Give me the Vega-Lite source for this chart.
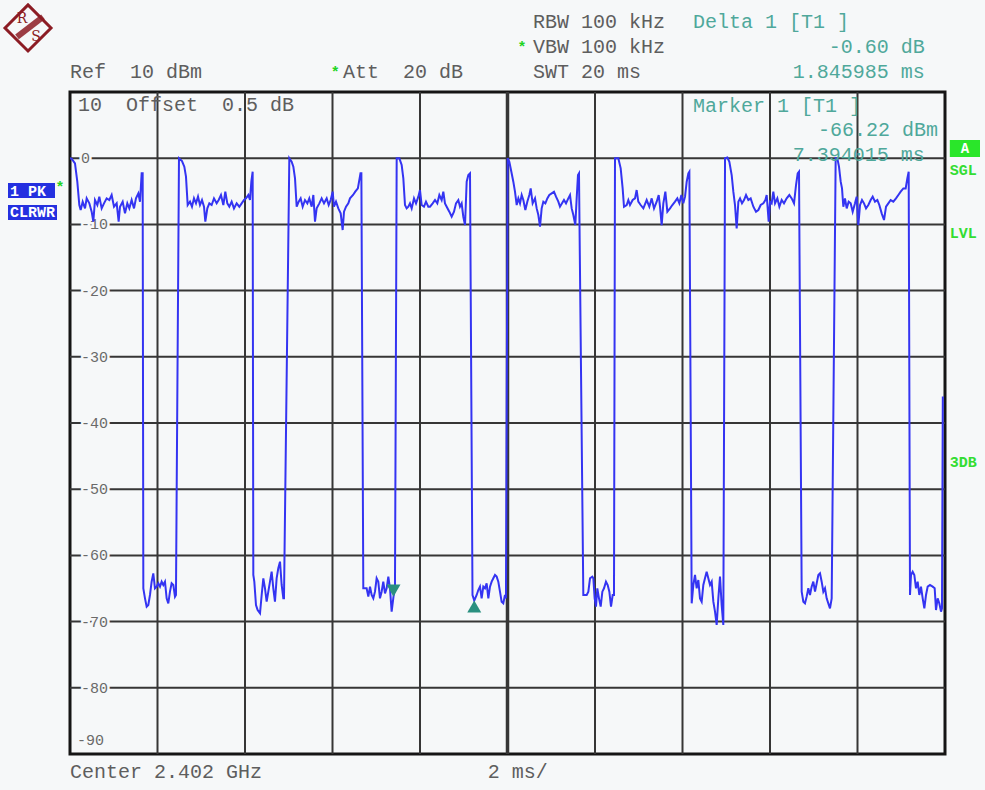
{
"$schema":"https://vega.github.io/schema/vega-lite/v6.json",
"width":875,"height":662,
"autosize":{"type":"none"},
"padding":{"left":70,"top":92,"right":40,"bottom":36},
"background":"#f6f8f9",
"config":{"view":{"stroke":"#151515","strokeWidth":3,"fill":"#f6f8f9"},"font":"Liberation Mono"},
"datasets":{
"trace":[
{"ms":0,"dBm":0.0},{"ms":0.04,"dBm":-0.1},{"ms":0.114,"dBm":-0.78},{"ms":0.167,"dBm":-3.55},{"ms":0.213,"dBm":-7.07},{"ms":0.244,"dBm":-7.83},{"ms":0.29,"dBm":-6.57},{"ms":0.343,"dBm":-7.58},{"ms":0.381,"dBm":-6.07},{"ms":0.442,"dBm":-6.82},{"ms":0.495,"dBm":-8.08},{"ms":0.533,"dBm":-9.59},{"ms":0.571,"dBm":-6.32},{"ms":0.625,"dBm":-7.07},{"ms":0.67,"dBm":-5.81},{"ms":0.724,"dBm":-7.58},{"ms":0.777,"dBm":-6.82},{"ms":0.838,"dBm":-6.07},{"ms":0.899,"dBm":-6.32},{"ms":0.952,"dBm":-5.56},{"ms":1.006,"dBm":-7.33},{"ms":1.067,"dBm":-6.82},{"ms":1.112,"dBm":-9.59},{"ms":1.143,"dBm":-7.33},{"ms":1.204,"dBm":-6.57},{"ms":1.257,"dBm":-8.33},{"ms":1.31,"dBm":-6.82},{"ms":1.356,"dBm":-7.58},{"ms":1.409,"dBm":-6.32},{"ms":1.463,"dBm":-7.58},{"ms":1.508,"dBm":-6.07},{"ms":1.562,"dBm":-5.31},{"ms":1.6,"dBm":-6.57},{"ms":1.638,"dBm":-2.29},{"ms":1.661,"dBm":-2.29},
{"ms":1.676,"dBm":-64.97},{"ms":1.714,"dBm":-66.49},{"ms":1.752,"dBm":-67.74},{"ms":1.79,"dBm":-67.49},{"ms":1.828,"dBm":-65.98},{"ms":1.866,"dBm":-63.97},{"ms":1.904,"dBm":-62.71},{"ms":1.942,"dBm":-64.97},{"ms":1.981,"dBm":-64.72},{"ms":2.019,"dBm":-64.22},{"ms":2.057,"dBm":-64.72},{"ms":2.095,"dBm":-63.97},{"ms":2.133,"dBm":-64.47},{"ms":2.171,"dBm":-63.97},{"ms":2.209,"dBm":-66.49},{"ms":2.247,"dBm":-67.24},{"ms":2.285,"dBm":-65.48},{"ms":2.323,"dBm":-64.22},{"ms":2.362,"dBm":-64.47},{"ms":2.4,"dBm":-66.23},{"ms":2.422,"dBm":-65.98},
{"ms":2.491,"dBm":0.0},{"ms":2.56,"dBm":-0.43},{"ms":2.613,"dBm":-1.28},{"ms":2.651,"dBm":-2.79},{"ms":2.69,"dBm":-7.07},{"ms":2.743,"dBm":-6.57},{"ms":2.788,"dBm":-7.33},{"ms":2.834,"dBm":-6.07},{"ms":2.88,"dBm":-6.82},{"ms":2.926,"dBm":-5.81},{"ms":2.971,"dBm":-7.07},{"ms":3.017,"dBm":-6.32},{"ms":3.063,"dBm":-7.33},{"ms":3.093,"dBm":-9.59},{"ms":3.139,"dBm":-7.58},{"ms":3.185,"dBm":-6.82},{"ms":3.238,"dBm":-7.07},{"ms":3.291,"dBm":-6.07},{"ms":3.352,"dBm":-6.82},{"ms":3.398,"dBm":-6.32},{"ms":3.451,"dBm":-5.56},{"ms":3.505,"dBm":-7.07},{"ms":3.55,"dBm":-5.06},{"ms":3.596,"dBm":-6.82},{"ms":3.642,"dBm":-7.33},{"ms":3.695,"dBm":-6.57},{"ms":3.748,"dBm":-7.58},{"ms":3.809,"dBm":-6.82},{"ms":3.87,"dBm":-7.33},{"ms":3.924,"dBm":-6.82},{"ms":3.977,"dBm":-6.32},{"ms":4.023,"dBm":-6.07},{"ms":4.076,"dBm":-5.56},{"ms":4.114,"dBm":-6.32},{"ms":4.145,"dBm":-3.55},{"ms":4.175,"dBm":-2.04},
{"ms":4.19,"dBm":-62.96},{"ms":4.213,"dBm":-63.97},{"ms":4.251,"dBm":-67.49},{"ms":4.289,"dBm":-68.25},{"ms":4.343,"dBm":-68.75},{"ms":4.381,"dBm":-65.98},{"ms":4.419,"dBm":-63.46},{"ms":4.457,"dBm":-64.97},{"ms":4.495,"dBm":-66.99},{"ms":4.533,"dBm":-65.48},{"ms":4.571,"dBm":-63.97},{"ms":4.609,"dBm":-62.46},{"ms":4.647,"dBm":-64.97},{"ms":4.685,"dBm":-66.99},{"ms":4.723,"dBm":-63.46},{"ms":4.761,"dBm":-61.95},{"ms":4.8,"dBm":-60.95},{"ms":4.838,"dBm":-64.47},{"ms":4.876,"dBm":-66.49},{"ms":4.891,"dBm":-66.49},
{"ms":5.013,"dBm":0.0},{"ms":5.066,"dBm":-0.53},{"ms":5.105,"dBm":-1.28},{"ms":5.143,"dBm":-3.05},{"ms":5.181,"dBm":-7.33},{"ms":5.227,"dBm":-6.57},{"ms":5.272,"dBm":-6.07},{"ms":5.318,"dBm":-7.33},{"ms":5.371,"dBm":-6.32},{"ms":5.425,"dBm":-6.82},{"ms":5.47,"dBm":-6.07},{"ms":5.524,"dBm":-7.33},{"ms":5.562,"dBm":-5.56},{"ms":5.6,"dBm":-9.59},{"ms":5.638,"dBm":-7.58},{"ms":5.699,"dBm":-6.82},{"ms":5.752,"dBm":-6.07},{"ms":5.806,"dBm":-6.82},{"ms":5.867,"dBm":-6.07},{"ms":5.913,"dBm":-7.07},{"ms":5.958,"dBm":-6.32},{"ms":6.004,"dBm":-5.06},{"ms":6.034,"dBm":-7.33},{"ms":6.08,"dBm":-6.57},{"ms":6.133,"dBm":-7.58},{"ms":6.187,"dBm":-8.33},{"ms":6.232,"dBm":-10.85},{"ms":6.263,"dBm":-8.08},{"ms":6.309,"dBm":-7.33},{"ms":6.362,"dBm":-6.82},{"ms":6.4,"dBm":-6.07},{"ms":6.47,"dBm":-5.56},{"ms":6.52,"dBm":-5.06},{"ms":6.58,"dBm":-4.55},{"ms":6.64,"dBm":-2.29},{"ms":6.66,"dBm":-2.29},
{"ms":6.704,"dBm":-64.97},{"ms":6.78,"dBm":-64.97},{"ms":6.819,"dBm":-66.23},{"ms":6.857,"dBm":-64.72},{"ms":6.895,"dBm":-65.98},{"ms":6.933,"dBm":-66.49},{"ms":6.971,"dBm":-65.48},{"ms":7.009,"dBm":-63.46},{"ms":7.047,"dBm":-63.97},{"ms":7.085,"dBm":-66.49},{"ms":7.123,"dBm":-65.48},{"ms":7.161,"dBm":-63.97},{"ms":7.2,"dBm":-65.73},{"ms":7.238,"dBm":-64.97},{"ms":7.276,"dBm":-63.21},{"ms":7.314,"dBm":-64.97},{"ms":7.352,"dBm":-68.5},{"ms":7.394,"dBm":-66.22},{"ms":7.428,"dBm":-64.97},
{"ms":7.467,"dBm":0.0},{"ms":7.528,"dBm":-0.02},{"ms":7.581,"dBm":-1.03},{"ms":7.619,"dBm":-3.05},{"ms":7.657,"dBm":-7.07},{"ms":7.695,"dBm":-7.58},{"ms":7.733,"dBm":-7.33},{"ms":7.771,"dBm":-6.82},{"ms":7.81,"dBm":-7.58},{"ms":7.863,"dBm":-6.07},{"ms":7.909,"dBm":-6.82},{"ms":7.962,"dBm":-5.81},{"ms":8.0,"dBm":-4.81},{"ms":8.038,"dBm":-7.07},{"ms":8.091,"dBm":-7.33},{"ms":8.137,"dBm":-6.57},{"ms":8.19,"dBm":-7.33},{"ms":8.229,"dBm":-7.33},{"ms":8.29,"dBm":-6.82},{"ms":8.343,"dBm":-6.32},{"ms":8.396,"dBm":-6.82},{"ms":8.442,"dBm":-5.56},{"ms":8.495,"dBm":-6.32},{"ms":8.533,"dBm":-5.06},{"ms":8.571,"dBm":-6.82},{"ms":8.61,"dBm":-7.33},{"ms":8.67,"dBm":-8.08},{"ms":8.724,"dBm":-8.84},{"ms":8.777,"dBm":-8.08},{"ms":8.823,"dBm":-6.82},{"ms":8.876,"dBm":-6.32},{"ms":8.914,"dBm":-7.33},{"ms":8.952,"dBm":-6.82},{"ms":8.99,"dBm":-8.84},{"ms":9.029,"dBm":-10.1},{"ms":9.067,"dBm":-3.55},{"ms":9.105,"dBm":-2.54},{"ms":9.143,"dBm":-2.29},
{"ms":9.2,"dBm":-66.0},{"ms":9.24,"dBm":-66.82},{"ms":9.295,"dBm":-65.98},{"ms":9.333,"dBm":-65.23},{"ms":9.371,"dBm":-64.72},{"ms":9.409,"dBm":-66.49},{"ms":9.447,"dBm":-64.72},{"ms":9.485,"dBm":-64.97},{"ms":9.523,"dBm":-64.22},{"ms":9.562,"dBm":-66.49},{"ms":9.6,"dBm":-64.72},{"ms":9.638,"dBm":-63.97},{"ms":9.676,"dBm":-63.46},{"ms":9.714,"dBm":-62.96},{"ms":9.752,"dBm":-63.21},{"ms":9.79,"dBm":-63.97},{"ms":9.828,"dBm":-65.48},{"ms":9.866,"dBm":-66.99},{"ms":9.904,"dBm":-67.24},{"ms":9.942,"dBm":-65.98},{"ms":9.965,"dBm":-66.49},
{"ms":10.004,"dBm":0.0},{"ms":10.042,"dBm":-0.53},{"ms":10.088,"dBm":-2.04},{"ms":10.133,"dBm":-3.55},{"ms":10.171,"dBm":-5.06},{"ms":10.21,"dBm":-7.07},{"ms":10.248,"dBm":-6.07},{"ms":10.286,"dBm":-6.82},{"ms":10.324,"dBm":-5.56},{"ms":10.362,"dBm":-6.32},{"ms":10.408,"dBm":-7.83},{"ms":10.453,"dBm":-6.57},{"ms":10.499,"dBm":-5.56},{"ms":10.53,"dBm":-4.56},{"ms":10.575,"dBm":-6.82},{"ms":10.629,"dBm":-6.07},{"ms":10.667,"dBm":-7.58},{"ms":10.705,"dBm":-8.58},{"ms":10.743,"dBm":-10.35},{"ms":10.781,"dBm":-7.58},{"ms":10.819,"dBm":-6.57},{"ms":10.865,"dBm":-6.82},{"ms":10.91,"dBm":-6.07},{"ms":10.956,"dBm":-5.56},{"ms":11.01,"dBm":-5.31},{"ms":11.063,"dBm":-5.06},{"ms":11.109,"dBm":-5.81},{"ms":11.162,"dBm":-6.57},{"ms":11.2,"dBm":-7.33},{"ms":11.246,"dBm":-6.82},{"ms":11.291,"dBm":-6.32},{"ms":11.337,"dBm":-6.82},{"ms":11.39,"dBm":-6.07},{"ms":11.429,"dBm":-5.56},{"ms":11.467,"dBm":-7.58},{"ms":11.505,"dBm":-8.58},{"ms":11.55,"dBm":-10.1},{"ms":11.581,"dBm":-6.07},{"ms":11.611,"dBm":-2.54},{"ms":11.634,"dBm":-2.29},
{"ms":11.733,"dBm":-65.98},{"ms":11.81,"dBm":-65.98},{"ms":11.848,"dBm":-65.48},{"ms":11.886,"dBm":-63.46},{"ms":11.939,"dBm":-63.21},{"ms":11.962,"dBm":-63.46},{"ms":11.992,"dBm":-66.49},{"ms":12.023,"dBm":-67.74},{"ms":12.053,"dBm":-64.97},{"ms":12.091,"dBm":-66.49},{"ms":12.13,"dBm":-67.74},{"ms":12.168,"dBm":-65.48},{"ms":12.206,"dBm":-64.97},{"ms":12.251,"dBm":-63.97},{"ms":12.29,"dBm":-64.47},{"ms":12.328,"dBm":-65.48},{"ms":12.366,"dBm":-67.74},{"ms":12.404,"dBm":-65.98},{"ms":12.434,"dBm":-65.98},
{"ms":12.457,"dBm":0.0},{"ms":12.533,"dBm":-0.02},{"ms":12.587,"dBm":-1.53},{"ms":12.632,"dBm":-4.56},{"ms":12.663,"dBm":-7.33},{"ms":12.724,"dBm":-7.07},{"ms":12.762,"dBm":-6.32},{"ms":12.8,"dBm":-7.07},{"ms":12.861,"dBm":-6.32},{"ms":12.914,"dBm":-6.07},{"ms":12.952,"dBm":-4.81},{"ms":12.99,"dBm":-6.57},{"ms":13.044,"dBm":-7.07},{"ms":13.105,"dBm":-7.58},{"ms":13.181,"dBm":-6.32},{"ms":13.242,"dBm":-7.33},{"ms":13.296,"dBm":-6.07},{"ms":13.349,"dBm":-7.58},{"ms":13.41,"dBm":-6.57},{"ms":13.456,"dBm":-5.56},{"ms":13.486,"dBm":-7.33},{"ms":13.524,"dBm":-10.1},{"ms":13.562,"dBm":-6.82},{"ms":13.608,"dBm":-5.06},{"ms":13.654,"dBm":-8.08},{"ms":13.715,"dBm":-7.58},{"ms":13.768,"dBm":-7.07},{"ms":13.829,"dBm":-6.57},{"ms":13.882,"dBm":-6.07},{"ms":13.928,"dBm":-6.82},{"ms":13.974,"dBm":-5.56},{"ms":14.019,"dBm":-6.82},{"ms":14.058,"dBm":-5.81},{"ms":14.096,"dBm":-3.55},{"ms":14.134,"dBm":-2.29},{"ms":14.157,"dBm":-2.04},
{"ms":14.21,"dBm":-67.24},{"ms":14.248,"dBm":-64.47},{"ms":14.286,"dBm":-62.96},{"ms":14.324,"dBm":-64.97},{"ms":14.362,"dBm":-63.72},{"ms":14.4,"dBm":-66.49},{"ms":14.438,"dBm":-66.99},{"ms":14.476,"dBm":-64.47},{"ms":14.514,"dBm":-63.46},{"ms":14.552,"dBm":-62.46},{"ms":14.59,"dBm":-63.46},{"ms":14.629,"dBm":-64.47},{"ms":14.667,"dBm":-63.97},{"ms":14.705,"dBm":-66.99},{"ms":14.743,"dBm":-68.5},{"ms":14.781,"dBm":-70.51},{"ms":14.819,"dBm":-66.49},{"ms":14.857,"dBm":-63.21},{"ms":14.895,"dBm":-67.49},{"ms":14.933,"dBm":-70.51},
{"ms":14.972,"dBm":0.0},{"ms":15.025,"dBm":0.1},{"ms":15.071,"dBm":-0.53},{"ms":15.124,"dBm":-2.54},{"ms":15.162,"dBm":-5.06},{"ms":15.2,"dBm":-7.07},{"ms":15.238,"dBm":-10.6},{"ms":15.277,"dBm":-6.57},{"ms":15.315,"dBm":-6.07},{"ms":15.36,"dBm":-6.82},{"ms":15.406,"dBm":-6.32},{"ms":15.452,"dBm":-5.56},{"ms":15.505,"dBm":-6.32},{"ms":15.558,"dBm":-6.07},{"ms":15.62,"dBm":-7.33},{"ms":15.68,"dBm":-8.08},{"ms":15.734,"dBm":-7.83},{"ms":15.787,"dBm":-7.07},{"ms":15.848,"dBm":-6.82},{"ms":15.894,"dBm":-6.32},{"ms":15.924,"dBm":-5.56},{"ms":15.97,"dBm":-9.59},{"ms":16.0,"dBm":-6.57},{"ms":16.038,"dBm":-6.82},{"ms":16.076,"dBm":-5.06},{"ms":16.115,"dBm":-6.82},{"ms":16.168,"dBm":-6.07},{"ms":16.214,"dBm":-7.33},{"ms":16.267,"dBm":-6.32},{"ms":16.32,"dBm":-6.82},{"ms":16.381,"dBm":-6.07},{"ms":16.442,"dBm":-5.56},{"ms":16.496,"dBm":-6.07},{"ms":16.549,"dBm":-6.82},{"ms":16.595,"dBm":-4.05},{"ms":16.633,"dBm":-2.29},{"ms":16.663,"dBm":-2.04},
{"ms":16.724,"dBm":-65.48},{"ms":16.762,"dBm":-66.99},{"ms":16.8,"dBm":-67.24},{"ms":16.838,"dBm":-66.23},{"ms":16.876,"dBm":-64.97},{"ms":16.914,"dBm":-65.98},{"ms":16.952,"dBm":-64.72},{"ms":16.99,"dBm":-63.97},{"ms":17.029,"dBm":-65.48},{"ms":17.067,"dBm":-64.22},{"ms":17.105,"dBm":-62.96},{"ms":17.143,"dBm":-62.71},{"ms":17.181,"dBm":-63.97},{"ms":17.219,"dBm":-65.48},{"ms":17.257,"dBm":-64.97},{"ms":17.295,"dBm":-66.49},{"ms":17.333,"dBm":-67.24},{"ms":17.371,"dBm":-68.0},{"ms":17.41,"dBm":-66.49},
{"ms":17.501,"dBm":0.0},{"ms":17.539,"dBm":-0.02},{"ms":17.577,"dBm":-1.28},{"ms":17.616,"dBm":-3.55},{"ms":17.646,"dBm":-4.56},{"ms":17.676,"dBm":-7.33},{"ms":17.714,"dBm":-6.07},{"ms":17.753,"dBm":-7.58},{"ms":17.798,"dBm":-6.57},{"ms":17.844,"dBm":-6.82},{"ms":17.89,"dBm":-8.08},{"ms":17.943,"dBm":-6.82},{"ms":17.981,"dBm":-5.81},{"ms":18.019,"dBm":-10.1},{"ms":18.058,"dBm":-7.07},{"ms":18.103,"dBm":-6.32},{"ms":18.149,"dBm":-6.82},{"ms":18.195,"dBm":-7.58},{"ms":18.248,"dBm":-7.07},{"ms":18.301,"dBm":-6.32},{"ms":18.347,"dBm":-5.81},{"ms":18.4,"dBm":-6.57},{"ms":18.454,"dBm":-6.32},{"ms":18.499,"dBm":-7.07},{"ms":18.553,"dBm":-8.33},{"ms":18.606,"dBm":-9.34},{"ms":18.652,"dBm":-7.33},{"ms":18.705,"dBm":-6.82},{"ms":18.758,"dBm":-6.32},{"ms":18.819,"dBm":-6.57},{"ms":18.88,"dBm":-6.07},{"ms":18.934,"dBm":-5.56},{"ms":18.987,"dBm":-5.06},{"ms":19.048,"dBm":-4.56},{"ms":19.101,"dBm":-4.56},{"ms":19.139,"dBm":-3.05},{"ms":19.17,"dBm":-2.04},
{"ms":19.2,"dBm":-65.98},{"ms":19.223,"dBm":-62.96},{"ms":19.261,"dBm":-62.46},{"ms":19.299,"dBm":-62.96},{"ms":19.337,"dBm":-64.97},{"ms":19.375,"dBm":-63.97},{"ms":19.413,"dBm":-65.98},{"ms":19.451,"dBm":-64.72},{"ms":19.49,"dBm":-66.49},{"ms":19.528,"dBm":-68.0},{"ms":19.566,"dBm":-65.98},{"ms":19.604,"dBm":-64.72},{"ms":19.657,"dBm":-64.47},{"ms":19.718,"dBm":-64.72},{"ms":19.764,"dBm":-64.97},{"ms":19.794,"dBm":-68.25},{"ms":19.832,"dBm":-66.49},{"ms":19.87,"dBm":-67.24},{"ms":19.909,"dBm":-68.5},{"ms":19.931,"dBm":-68.0},{"ms":19.95,"dBm":-36.0}
],
"vgrid":[{"ms":2},{"ms":4},{"ms":6},{"ms":8},{"ms":10},{"ms":12},{"ms":14},{"ms":16},{"ms":18}],
"hgrid":[{"dBm":0},{"dBm":-10},{"dBm":-20},{"dBm":-30},{"dBm":-40},{"dBm":-50},{"dBm":-60},{"dBm":-70},{"dBm":-80}],
"ylab":[{"lev":0,"lab":"0"},{"lev":-10,"lab":"-10"},{"lev":-20,"lab":"-20"},{"lev":-30,"lab":"-30"},{"lev":-40,"lab":"-40"},{"lev":-50,"lab":"-50"},{"lev":-60,"lab":"-60"},{"lev":-70,"lab":"-70"},{"lev":-80,"lab":"-80"}],
"ylab90":[{"lev":-90,"lab":"-90"}],
"info":[
{"txt":"Ref \u00a010 dBm","ms":0,"dBm":13.0},
{"txt":"Att \u00a020 dB","ms":6.24,"dBm":13.0},
{"txt":"RBW 100 kHz","ms":10.58,"dBm":20.57},
{"txt":"VBW 100 kHz","ms":10.58,"dBm":16.8},
{"txt":"SWT 20 ms","ms":10.58,"dBm":13.0},
{"txt":"10 \u00a0Offset \u00a00.5 dB","ms":0.18,"dBm":8.04},
{"txt":"Center 2.402 GHz","ms":0,"dBm":-92.7},
{"txt":"2 ms/","ms":9.55,"dBm":-92.7}
],
"tealL":[
{"txt":"Delta 1 [T1 ]","ms":14.24,"dBm":20.57},
{"txt":"Marker 1 [T1 ]","ms":14.24,"dBm":7.89}
],
"tealR":[
{"txt":"-0.60 dB","ms":19.54,"dBm":16.8},
{"txt":"1.845985 ms","ms":19.54,"dBm":13.0},
{"txt":"-66.22 dBm","ms":19.84,"dBm":4.26},
{"txt":"7.394015 ms","ms":19.54,"dBm":0.48}
],
"stars":[{"ms":10.33,"dBm":16.8},{"ms":6.06,"dBm":13.0},{"ms":-0.23,"dBm":-4.4}],
"boxes":[{"x1":-1.417,"x2":-0.343,"y1":-3.75,"y2":-6.01},{"x1":-1.417,"x2":-0.297,"y1":-7.07,"y2":-9.34}],
"boxtxt":[{"txt":"1 PK","ms":-1.37,"dBm":-4.88},{"txt":"CLRWR","ms":-1.37,"dBm":-8.2}],
"grnbox":[{"x1":20.11,"x2":20.8,"y1":2.75,"y2":0.18}],
"grnboxtxt":[{"txt":"A","ms":20.455,"dBm":1.46}],
"grntxt":[{"txt":"SGL","ms":20.11,"dBm":-1.78},{"txt":"LVL","ms":20.11,"dBm":-11.3},{"txt":"3DB","ms":20.11,"dBm":-45.9}],
"logo":[{"ms":-0.96,"dBm":19.67}],
"logoband":[{"x1":-1.211,"y1":18.31,"x2":-0.617,"y2":21.33}],
"logotxt":[{"txt":"R","ms":-1.097,"dBm":21.03},{"txt":"S","ms":-0.777,"dBm":18.31}],
"m1":[{"ms":7.394,"dBm":-66.22}],
"d1":[{"ms":9.24,"dBm":-66.82}]
},
"layer":[
{"data":{"name":"vgrid"},
 "mark":{"type":"rule","color":"#363636"},
 "encoding":{"x":{"field":"ms","type":"quantitative","scale":{"domain":[0,20],"nice":false,"zero":false},"axis":null},
  "strokeWidth":{"condition":{"test":"datum.ms === 10","value":3.5},"value":2}}},
{"data":{"name":"hgrid"},
 "mark":{"type":"rule","color":"#363636","strokeWidth":2},
 "encoding":{"y":{"field":"dBm","type":"quantitative","scale":{"domain":[-90,10],"nice":false,"zero":false},"axis":null}}},
{"data":{"name":"ylab"},
 "mark":{"type":"text","align":"left","baseline":"middle","fontSize":15,"color":"#f6f8f9","stroke":"#f6f8f9","strokeWidth":5},
 "encoding":{"x":{"datum":0.25,"type":"quantitative","scale":{"domain":[0,20],"nice":false,"zero":false},"axis":null},
  "y":{"field":"lev","type":"quantitative","scale":{"domain":[-90,10],"nice":false,"zero":false},"axis":null},
  "text":{"field":"lab"}}},
{"data":{"name":"ylab"},
 "mark":{"type":"text","align":"left","baseline":"middle","fontSize":15,"color":"#6a6a6a"},
 "encoding":{"x":{"datum":0.25,"type":"quantitative","scale":{"domain":[0,20],"nice":false,"zero":false},"axis":null},
  "y":{"field":"lev","type":"quantitative","scale":{"domain":[-90,10],"nice":false,"zero":false},"axis":null},
  "text":{"field":"lab"}}},
{"data":{"name":"ylab90"},
 "mark":{"type":"text","align":"left","baseline":"middle","fontSize":15,"color":"#6a6a6a","dy":-14},
 "encoding":{"x":{"datum":0.16,"type":"quantitative","scale":{"domain":[0,20],"nice":false,"zero":false},"axis":null},
  "y":{"field":"lev","type":"quantitative","scale":{"domain":[-90,10],"nice":false,"zero":false},"axis":null},
  "text":{"field":"lab"}}},
{"data":{"name":"trace"},
 "mark":{"type":"line","color":"#3434f2","strokeWidth":2,"clip":true},
 "encoding":{
  "x":{"field":"ms","type":"quantitative","scale":{"domain":[0,20],"nice":false,"zero":false},"axis":null},
  "y":{"field":"dBm","type":"quantitative","scale":{"domain":[-90,10],"nice":false,"zero":false},"axis":null}}},
{"data":{"name":"m1"},
 "mark":{"type":"point","shape":"triangle-down","filled":true,"size":196,"color":"#2a9080","opacity":1,"yOffset":-6},
 "encoding":{"x":{"field":"ms","type":"quantitative","scale":{"domain":[0,20],"nice":false,"zero":false},"axis":null},
  "y":{"field":"dBm","type":"quantitative","scale":{"domain":[-90,10],"nice":false,"zero":false},"axis":null}}},
{"data":{"name":"d1"},
 "mark":{"type":"point","shape":"triangle-up","filled":true,"size":196,"color":"#2a9080","opacity":1,"yOffset":6},
 "encoding":{"x":{"field":"ms","type":"quantitative","scale":{"domain":[0,20],"nice":false,"zero":false},"axis":null},
  "y":{"field":"dBm","type":"quantitative","scale":{"domain":[-90,10],"nice":false,"zero":false},"axis":null}}},
{"data":{"name":"info"},
 "mark":{"type":"text","align":"left","baseline":"middle","fontSize":20,"color":"#5e5e5e"},
 "encoding":{"x":{"field":"ms","type":"quantitative","scale":{"domain":[0,20],"nice":false,"zero":false},"axis":null},
  "y":{"field":"dBm","type":"quantitative","scale":{"domain":[-90,10],"nice":false,"zero":false},"axis":null},
  "text":{"field":"txt"}}},
{"data":{"name":"tealL"},
 "mark":{"type":"text","align":"left","baseline":"middle","fontSize":20,"color":"#4fa89b"},
 "encoding":{"x":{"field":"ms","type":"quantitative","scale":{"domain":[0,20],"nice":false,"zero":false},"axis":null},
  "y":{"field":"dBm","type":"quantitative","scale":{"domain":[-90,10],"nice":false,"zero":false},"axis":null},
  "text":{"field":"txt"}}},
{"data":{"name":"tealR"},
 "mark":{"type":"text","align":"right","baseline":"middle","fontSize":20,"color":"#4fa89b"},
 "encoding":{"x":{"field":"ms","type":"quantitative","scale":{"domain":[0,20],"nice":false,"zero":false},"axis":null},
  "y":{"field":"dBm","type":"quantitative","scale":{"domain":[-90,10],"nice":false,"zero":false},"axis":null},
  "text":{"field":"txt"}}},
{"data":{"name":"stars"},
 "mark":{"type":"text","align":"center","baseline":"middle","fontSize":15,"fontWeight":"bold","color":"#22d422","text":"*"},
 "encoding":{"x":{"field":"ms","type":"quantitative","scale":{"domain":[0,20],"nice":false,"zero":false},"axis":null},
  "y":{"field":"dBm","type":"quantitative","scale":{"domain":[-90,10],"nice":false,"zero":false},"axis":null}}},
{"data":{"name":"boxes"},
 "mark":{"type":"rect","color":"#2430e0"},
 "encoding":{"x":{"field":"x1","type":"quantitative","scale":{"domain":[0,20],"nice":false,"zero":false},"axis":null},"x2":{"field":"x2"},
  "y":{"field":"y1","type":"quantitative","scale":{"domain":[-90,10],"nice":false,"zero":false},"axis":null},"y2":{"field":"y2"}}},
{"data":{"name":"boxtxt"},
 "mark":{"type":"text","align":"left","baseline":"middle","fontSize":15,"fontWeight":"bold","color":"#ffffff"},
 "encoding":{"x":{"field":"ms","type":"quantitative","scale":{"domain":[0,20],"nice":false,"zero":false},"axis":null},
  "y":{"field":"dBm","type":"quantitative","scale":{"domain":[-90,10],"nice":false,"zero":false},"axis":null},
  "text":{"field":"txt"}}},
{"data":{"name":"grnbox"},
 "mark":{"type":"rect","color":"#2ae62a"},
 "encoding":{"x":{"field":"x1","type":"quantitative","scale":{"domain":[0,20],"nice":false,"zero":false},"axis":null},"x2":{"field":"x2"},
  "y":{"field":"y1","type":"quantitative","scale":{"domain":[-90,10],"nice":false,"zero":false},"axis":null},"y2":{"field":"y2"}}},
{"data":{"name":"grnboxtxt"},
 "mark":{"type":"text","align":"center","baseline":"middle","fontSize":14,"fontWeight":"bold","color":"#ffffff"},
 "encoding":{"x":{"field":"ms","type":"quantitative","scale":{"domain":[0,20],"nice":false,"zero":false},"axis":null},
  "y":{"field":"dBm","type":"quantitative","scale":{"domain":[-90,10],"nice":false,"zero":false},"axis":null},
  "text":{"field":"txt"}}},
{"data":{"name":"grntxt"},
 "mark":{"type":"text","align":"left","baseline":"middle","fontSize":15,"fontWeight":"bold","color":"#33dd33"},
 "encoding":{"x":{"field":"ms","type":"quantitative","scale":{"domain":[0,20],"nice":false,"zero":false},"axis":null},
  "y":{"field":"dBm","type":"quantitative","scale":{"domain":[-90,10],"nice":false,"zero":false},"axis":null},
  "text":{"field":"txt"}}},
{"data":{"name":"logo"},
 "mark":{"type":"point","shape":"diamond","size":2116,"filled":false,"stroke":"#8c1c24","strokeWidth":3,"opacity":1},
 "encoding":{"x":{"field":"ms","type":"quantitative","scale":{"domain":[0,20],"nice":false,"zero":false},"axis":null},
  "y":{"field":"dBm","type":"quantitative","scale":{"domain":[-90,10],"nice":false,"zero":false},"axis":null}}},
{"data":{"name":"logoband"},
 "mark":{"type":"rule","color":"#8c1c24","strokeWidth":6,"opacity":0.85},
 "encoding":{"x":{"field":"x1","type":"quantitative","scale":{"domain":[0,20],"nice":false,"zero":false},"axis":null},"x2":{"field":"x2"},
  "y":{"field":"y1","type":"quantitative","scale":{"domain":[-90,10],"nice":false,"zero":false},"axis":null},"y2":{"field":"y2"}}},
{"data":{"name":"logotxt"},
 "mark":{"type":"text","align":"center","baseline":"middle","fontSize":14,"font":"DejaVu Serif","color":"#8c1c24"},
 "encoding":{"x":{"field":"ms","type":"quantitative","scale":{"domain":[0,20],"nice":false,"zero":false},"axis":null},
  "y":{"field":"dBm","type":"quantitative","scale":{"domain":[-90,10],"nice":false,"zero":false},"axis":null},
  "text":{"field":"txt"}}}
]
}
